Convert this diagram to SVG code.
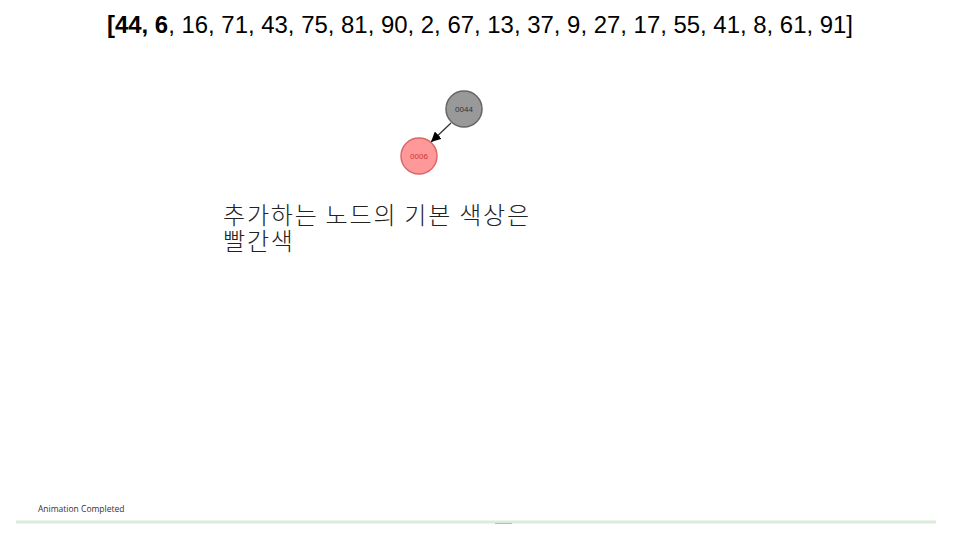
<svg xmlns="http://www.w3.org/2000/svg" width="960" height="540" viewBox="0 0 960 540">
<style>
.node circle{stroke-width:1.5}
.lbl{font-family:"Liberation Sans",Arial,sans-serif;font-size:8px;text-anchor:middle;dominant-baseline:central}
.kr{font-family:"Noto Sans CJK KR","Noto Sans",sans-serif;font-size:24px;font-weight:300;letter-spacing:1.8px;fill:#222}
</style>
<defs>
<marker id="ah" viewBox="0 0 10 10" refX="10" refY="5" markerWidth="10" markerHeight="10" markerUnits="userSpaceOnUse" orient="auto">
<path d="M0,0 L10,5 L0,10 z" fill="#000"/>
</marker>
</defs>
<rect width="960" height="540" fill="#fff"/>
<text x="480" y="33" text-anchor="middle" font-family="Liberation Sans Narrow,'Liberation Sans',Arial,sans-serif" font-size="23" textLength="746" lengthAdjust="spacingAndGlyphs" fill="#000"><tspan font-weight="bold">[44, 6</tspan>, 16, 71, 43, 75, 81, 90, 2, 67, 13, 37, 9, 27, 17, 55, 41, 8, 61, 91]</text>
<g id="connectors">
<line x1="451" y1="123" x2="431" y2="142" stroke="#333" stroke-width="1.3" marker-end="url(#ah)"/>
</g>
<g id="node-0044" class="node">
<circle cx="464" cy="109" r="18" fill="#999" stroke="#666"/>
<text class="lbl" x="464" y="109" fill="#333">0044</text>
</g>
<g id="node-0006" class="node">
<circle cx="419" cy="156" r="18" fill="#f99" stroke="#d66"/>
<text class="lbl" x="419" y="156" fill="#c33">0006</text>
</g>
<text class="kr" x="223" y="224">추가하는 노드의 기본 색상은</text>
<text class="kr" x="223" y="250">빨간색</text>
<text x="38" y="512" font-family="'Open Sans','Liberation Sans',sans-serif" font-size="8.5" fill="#333">Animation Completed</text>
<line x1="16" y1="522" x2="936" y2="522" stroke="#dcebdc" stroke-width="3"/>
<line x1="495" y1="523.5" x2="512" y2="523.5" stroke="#bbb" stroke-width="1"/>
</svg>
